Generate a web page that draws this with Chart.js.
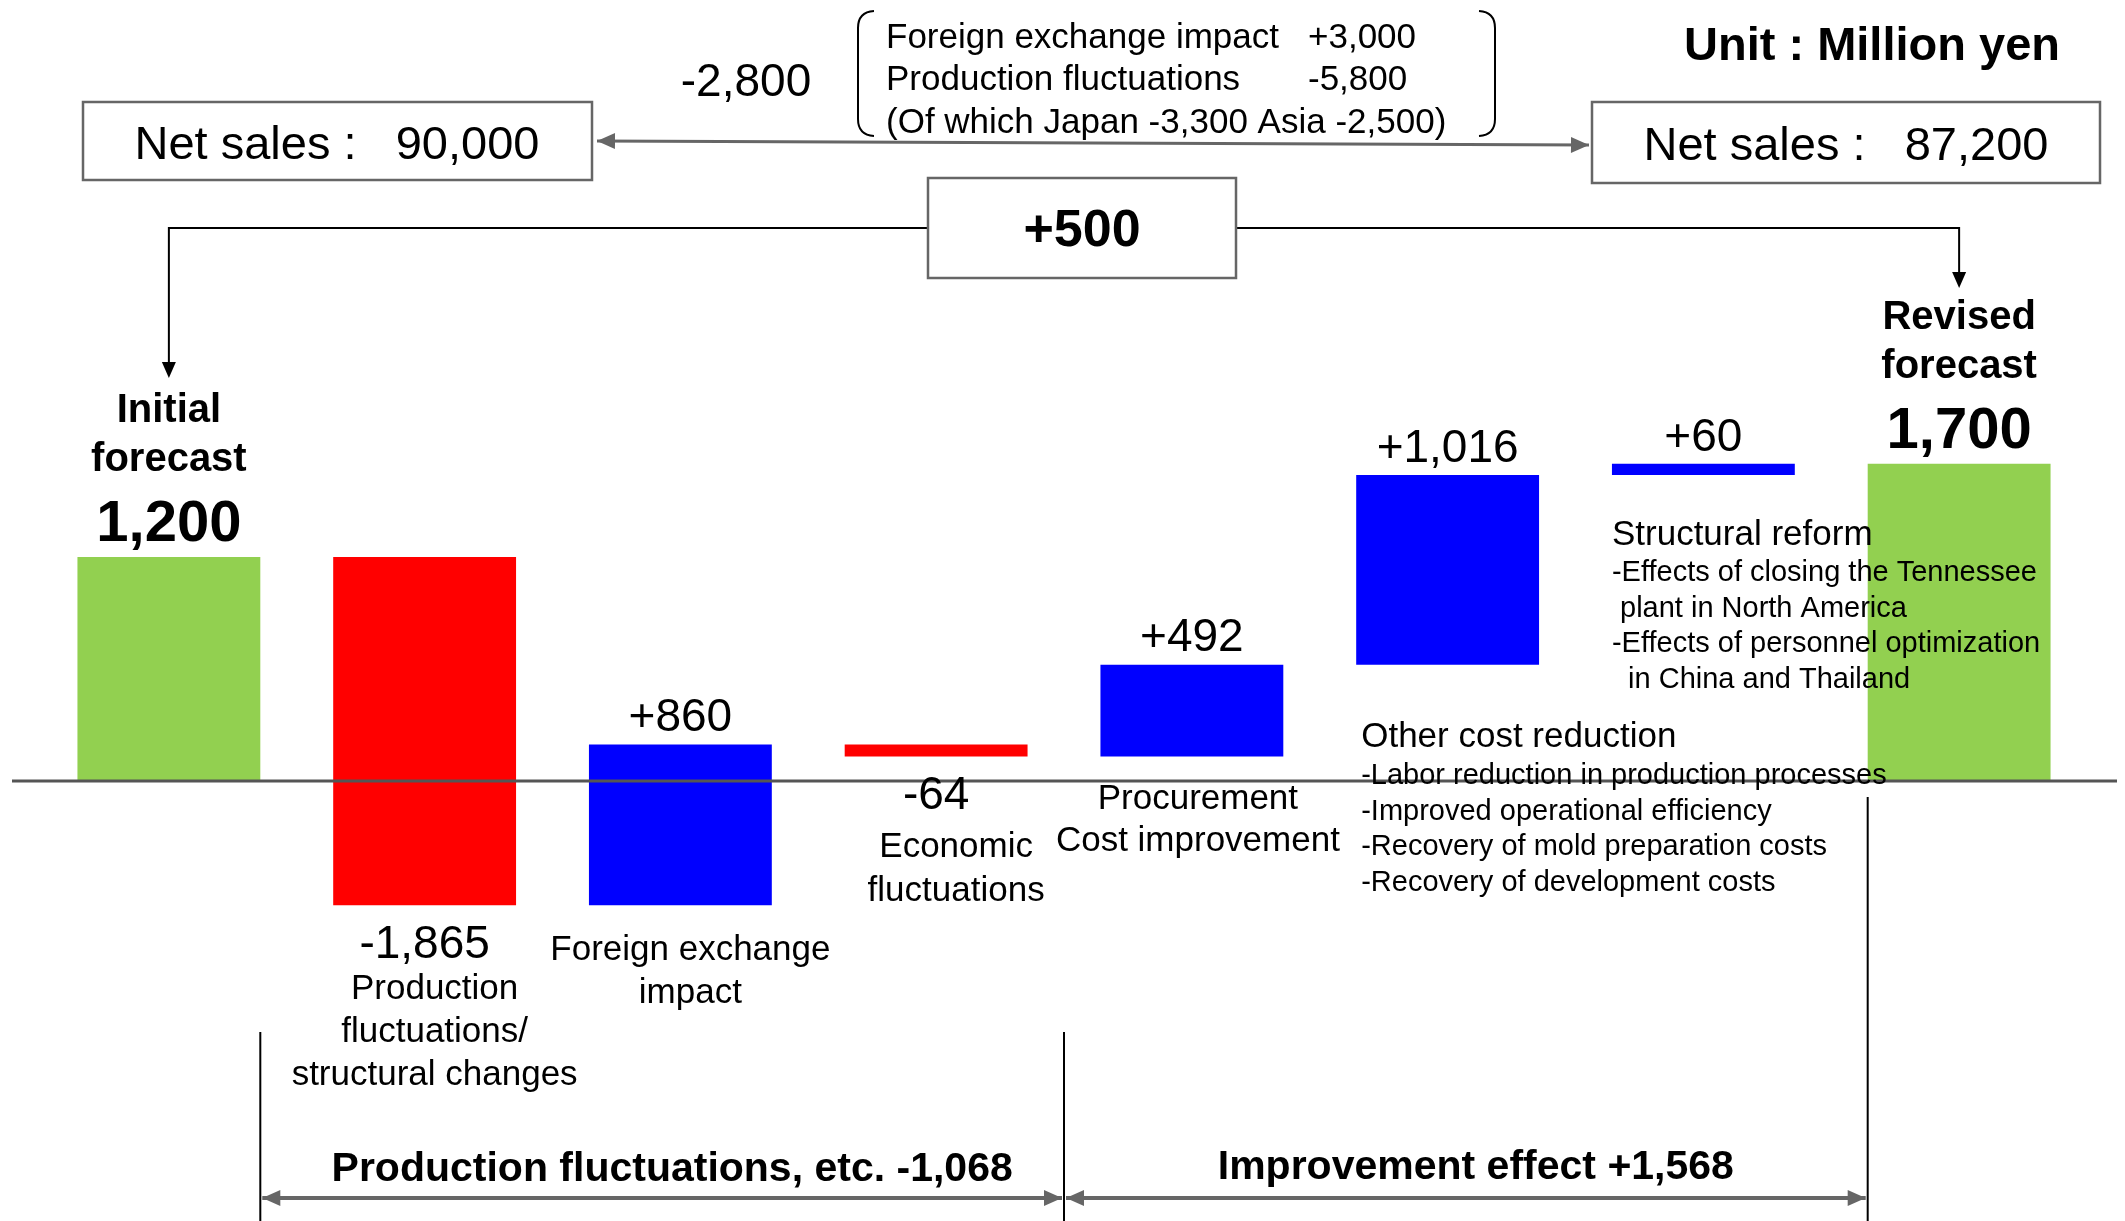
<!DOCTYPE html>
<html>
<head>
<meta charset="utf-8">
<script src="https://cdn.jsdelivr.net/npm/chart.js@4/dist/chart.umd.min.js"></script>
<style>
  html, body { margin: 0; padding: 0; background: #fff; }
  canvas { display: block; }
</style>
</head>
<body>
<canvas id="chart" width="2125" height="1221"></canvas>
<script>
// waterfall data (million yen)
const categories = ["Initial forecast", "Production fluctuations/structural changes", "Foreign exchange impact",
  "Economic fluctuations", "Procurement Cost improvement", "Other cost reduction", "Structural reform", "Revised forecast"];
const changes = [1200, -1865, 860, -64, 492, 1016, 60, 1700];
const isTotal = [true, false, false, false, false, false, false, true];

// text under / beside the bars
const bottomLabels = [
  [],
  ["Production", "fluctuations/", "structural changes"],
  ["Foreign exchange", "impact"],
  ["Economic", "fluctuations"],
  ["Procurement", "Cost improvement"],
  [], [], []
];
const otherCostLines = ["-Labor reduction in production processes", "-Improved operational efficiency",
  "-Recovery of mold preparation costs", "-Recovery of development costs"];
const structuralLines = ["-Effects of closing the Tennessee", " plant in North America",
  "-Effects of personnel optimization", "  in China and Thailand"];
const salesBefore = "90,000";
const salesAfter = "87,200";
const salesDiff = "-2,800";
const salesBreakdown = [["Foreign exchange impact", "+3,000"], ["Production fluctuations", "-5,800"],
  ["(Of which Japan -3,300 Asia -2,500)", ""]];
const totalDiff = "+500";
const groupLabels = ["Production fluctuations, etc. -1,068", "Improvement effect +1,568"];

const GREEN = "#92D050", RED = "#FF0000", BLUE = "#0000FF", GREY = "#666666";
const FONT = "'Liberation Sans', Arial, sans-serif";

// build floating bars
let running = 0;
const floating = changes.map((v, i) => {
  if (isTotal[i]) { running = v; return [0, v]; }
  const start = running;
  running += v;
  return [start, running];
});
const barColors = changes.map((v, i) => isTotal[i] ? GREEN : (v < 0 ? RED : BLUE));

function fmt(v, sign) {
  const s = Math.abs(v).toLocaleString("en-US");
  if (!sign) return (v < 0 ? "-" : "") + s;
  return (v < 0 ? "-" : "+") + s;
}

function txt(ctx, s, x, y, size, bold, align) {
  ctx.font = (bold ? "bold " : "") + size + "px " + FONT;
  ctx.textAlign = align || "center";
  ctx.textBaseline = "middle";
  ctx.fillStyle = "#000";
  // +4: middle baseline sits a bit high for this font
  ctx.fillText(s, x, y + 4);
}

function head(ctx, x, y, ang, len, wid, color) {
  ctx.save();
  ctx.translate(x, y);
  ctx.rotate(ang);
  ctx.fillStyle = color;
  ctx.beginPath();
  ctx.moveTo(0, 0);
  ctx.lineTo(-len, -wid / 2);
  ctx.lineTo(-len, wid / 2);
  ctx.closePath();
  ctx.fill();
  ctx.restore();
}

function arrow(ctx, x1, y1, x2, y2, color, lw, both) {
  const ang = Math.atan2(y2 - y1, x2 - x1);
  ctx.strokeStyle = color;
  ctx.lineWidth = lw;
  ctx.beginPath();
  ctx.moveTo(x1, y1);
  ctx.lineTo(x2, y2);
  ctx.stroke();
  head(ctx, x2, y2, ang, 18, 16, color);
  if (both) head(ctx, x1, y1, ang + Math.PI, 18, 16, color);
}

function box(ctx, x, y, w, h) {
  ctx.fillStyle = "#fff";
  ctx.fillRect(x, y, w, h);
  ctx.strokeStyle = GREY;
  ctx.lineWidth = 2.5;
  ctx.strokeRect(x, y, w, h);
}

const annotations = {
  id: "annotations",
  afterDatasetsDraw(chart) {
    const ctx = chart.ctx;
    const bars = chart.getDatasetMeta(0).data;
    const y = chart.scales.y;
    const y0 = y.getPixelForValue(0);
    ctx.save();

    // zero line
    ctx.strokeStyle = "#555";
    ctx.lineWidth = 3;
    ctx.beginPath();
    ctx.moveTo(12, y0);
    ctx.lineTo(2117, y0);
    ctx.stroke();

    // value labels
    bars.forEach((b, i) => {
      const top = y.getPixelForValue(Math.max(...floating[i]));
      const bottom = y.getPixelForValue(Math.min(...floating[i]));
      if (isTotal[i]) {
        const words = categories[i].split(" ");
        txt(ctx, words[0], b.x, top - 150, 40, true);
        txt(ctx, words[1], b.x, top - 101, 40, true);
        txt(ctx, fmt(changes[i]), b.x, top - 36, 58, true);
      } else if (changes[i] > 0) {
        txt(ctx, fmt(changes[i], true), b.x, top - 30, 46);
      } else {
        txt(ctx, fmt(changes[i], true), b.x, bottom + 36, 46);
      }
    });

    // category names
    const b = bars;
    const bot = i => y.getPixelForValue(Math.min(...floating[i]));
    bottomLabels[1].forEach((s, k) => txt(ctx, s, b[1].x + 10, bot(1) + 80 + k * 43, 35));
    bottomLabels[2].forEach((s, k) => txt(ctx, s, b[2].x + 10, bot(2) + 41 + k * 43, 35));
    bottomLabels[3].forEach((s, k) => txt(ctx, s, b[3].x + 20, bot(3) + 87 + k * 44, 35));
    bottomLabels[4].forEach((s, k) => txt(ctx, s, b[4].x + 6, y0 + 14 + k * 42, 35));

    const left5 = b[5].x - b[5].width / 2 + 5;
    txt(ctx, categories[5], left5, 733, 35, false, "left");
    otherCostLines.forEach((s, k) => txt(ctx, s, left5, 772 + k * 35.5, 29, false, "left"));
    const left6 = b[6].x - b[6].width / 2;
    txt(ctx, categories[6], left6, 531, 35, false, "left");
    structuralLines.forEach((s, k) => txt(ctx, s, left6, 569 + k * 35.5, 29, false, "left"));

    // net sales boxes
    box(ctx, 83, 102, 509, 78);
    txt(ctx, "Net sales :   " + salesBefore, 337, 142, 47);
    box(ctx, 1592, 102, 508, 81);
    txt(ctx, "Net sales :   " + salesAfter, 1846, 143, 47);
    arrow(ctx, 597, 141, 1589, 145, GREY, 3, true);
    txt(ctx, salesDiff, 746, 79, 46);
    txt(ctx, "Unit : Million yen", 1872, 43, 47, true);

    // bracket with breakdown
    ctx.strokeStyle = "#000";
    ctx.lineWidth = 2;
    ctx.beginPath();
    ctx.moveTo(874, 11); ctx.quadraticCurveTo(858, 12, 858, 28);
    ctx.lineTo(858, 119); ctx.quadraticCurveTo(858, 135, 874, 136);
    ctx.moveTo(1479, 11); ctx.quadraticCurveTo(1495, 12, 1495, 28);
    ctx.lineTo(1495, 119); ctx.quadraticCurveTo(1495, 135, 1479, 136);
    ctx.stroke();
    salesBreakdown.forEach((r, k) => {
      txt(ctx, r[0], 886, 34 + k * 42.5, 35, false, "left");
      if (r[1]) txt(ctx, r[1], 1308, 34 + k * 42.5, 35, false, "left");
    });

    // +500 box and connectors
    ctx.strokeStyle = "#000";
    ctx.lineWidth = 2;
    ctx.beginPath();
    ctx.moveTo(928, 228); ctx.lineTo(b[0].x, 228); ctx.lineTo(b[0].x, 362);
    ctx.moveTo(1236, 228); ctx.lineTo(b[7].x, 228); ctx.lineTo(b[7].x, 272);
    ctx.stroke();
    head(ctx, b[0].x, 378, Math.PI / 2, 16, 14, "#000");
    head(ctx, b[7].x, 288, Math.PI / 2, 16, 14, "#000");
    box(ctx, 928, 178, 308, 100);
    txt(ctx, totalDiff, 1082, 228, 52, true);

    // group brackets at the bottom
    const xa = b[0].x + b[0].width / 2;
    const xb = (b[3].x + b[4].x) / 2;
    const xc = b[7].x - b[7].width / 2;
    ctx.strokeStyle = "#000";
    ctx.lineWidth = 2;
    ctx.beginPath();
    ctx.moveTo(xa, 1032); ctx.lineTo(xa, 1221);
    ctx.moveTo(xb, 1032); ctx.lineTo(xb, 1221);
    ctx.moveTo(xc, 797); ctx.lineTo(xc, 1221);
    ctx.stroke();
    arrow(ctx, xa + 2, 1198, xb - 2, 1198, GREY, 4, true);
    arrow(ctx, xb + 2, 1198, xc - 2, 1198, GREY, 4, true);
    txt(ctx, groupLabels[0], (xa + xb) / 2 + 10, 1166, 41, true);
    txt(ctx, groupLabels[1], (xb + xc) / 2 + 10, 1164, 41, true);

    ctx.restore();
  }
};

new Chart(document.getElementById("chart"), {
  type: "bar",
  data: {
    labels: categories,
    datasets: [{
      data: floating,
      backgroundColor: barColors,
      borderWidth: 0,
      barPercentage: 0.715,
      categoryPercentage: 1
    }]
  },
  options: {
    responsive: false,
    devicePixelRatio: 1,
    animation: false,
    layout: { padding: { left: 41, right: 38, top: 0, bottom: 0 } },
    plugins: { legend: { display: false }, tooltip: { enabled: false } },
    scales: {
      x: { display: false },
      y: { display: false, min: -2357, max: 4184 }
    }
  },
  plugins: [annotations]
});
</script>
</body>
</html>
